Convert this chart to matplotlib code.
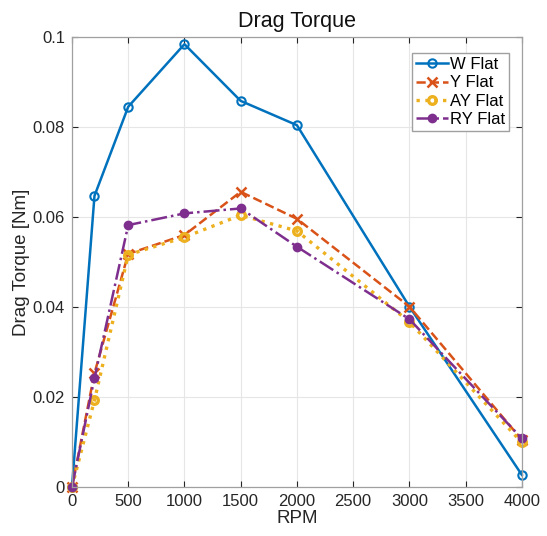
import numpy as np
import matplotlib.pyplot as plt

plt.rcParams['font.family'] = ['Liberation Sans', 'DejaVu Sans']

### DATA ###
rpm = [0, 200, 500, 1000, 1500, 2000, 3000, 4000]
w_flat = [0, 0.0647, 0.0845, 0.0984, 0.0858, 0.0804, 0.0401, 0.0027]
y_flat = [0, 0.0253, 0.0518, 0.0560, 0.0656, 0.0596, 0.0401, 0.0105]
ay_flat = [0, 0.0193, 0.0516, 0.0555, 0.0604, 0.0569, 0.0367, 0.0099]
ry_flat = [0, 0.0242, 0.0582, 0.0608, 0.0619, 0.0534, 0.0373, 0.0108]
labels = ['W Flat', 'Y Flat', 'AY Flat', 'RY Flat']

### STYLE ###
colors = ['#0072BD', '#D95319', '#EDB120', '#7E2F8E']

fig = plt.figure(figsize=(5.47, 5.36), dpi=100)
ax = fig.add_axes([0.1316, 0.0914, 0.8224, 0.8396])

ax.plot(rpm, w_flat, '-o', color=colors[0], lw=1.8, ms=6, mfc='none', mew=1.5, label=labels[0], clip_on=False)
ax.plot(rpm, y_flat, '--x', color=colors[1], lw=1.8, ms=6.5, mew=1.8, label=labels[1], clip_on=False)
ax.plot(rpm, ay_flat, ':o', color=colors[2], lw=2.4, ms=5.5, mfc='none', mew=2.4, label=labels[2], clip_on=False)
ax.plot(rpm, ry_flat, '-.o', color=colors[3], lw=1.8, ms=5.5, mew=1.5, label=labels[3], clip_on=False)

ax.set_xlim(0, 4000)
ax.set_ylim(0, 0.1)
ax.set_xticks(np.arange(0, 4001, 500))
ax.set_yticks([0, 0.02, 0.04, 0.06, 0.08, 0.1])
ax.set_yticklabels(['0', '0.02', '0.04', '0.06', '0.08', '0.1'])
ax.grid(True, color='#e6e6e6', lw=0.8)
ax.set_axisbelow(True)
ax.tick_params(direction='in', labelsize=12, colors='#262626', length=4, top=True, right=True,
               labeltop=False, labelright=False, pad=5)
for s in ax.spines.values():
    s.set_color('#a0a0a0')
    s.set_linewidth(0.9)

ax.set_title('Drag Torque', fontsize=15.5, color='#111111', pad=7)
ax.set_xlabel('RPM', fontsize=13.5, color='#262626', labelpad=1)
ax.set_ylabel('Drag Torque [Nm]', fontsize=13.5, color='#262626', labelpad=2)

leg = ax.legend(loc='upper right', fontsize=12, handlelength=1.9, borderpad=0.25,
                labelspacing=0.2, handletextpad=0.1, fancybox=False,
                edgecolor='#a0a0a0', framealpha=1, bbox_to_anchor=(0.99, 0.983))

fig.savefig('out.png', dpi=100)
